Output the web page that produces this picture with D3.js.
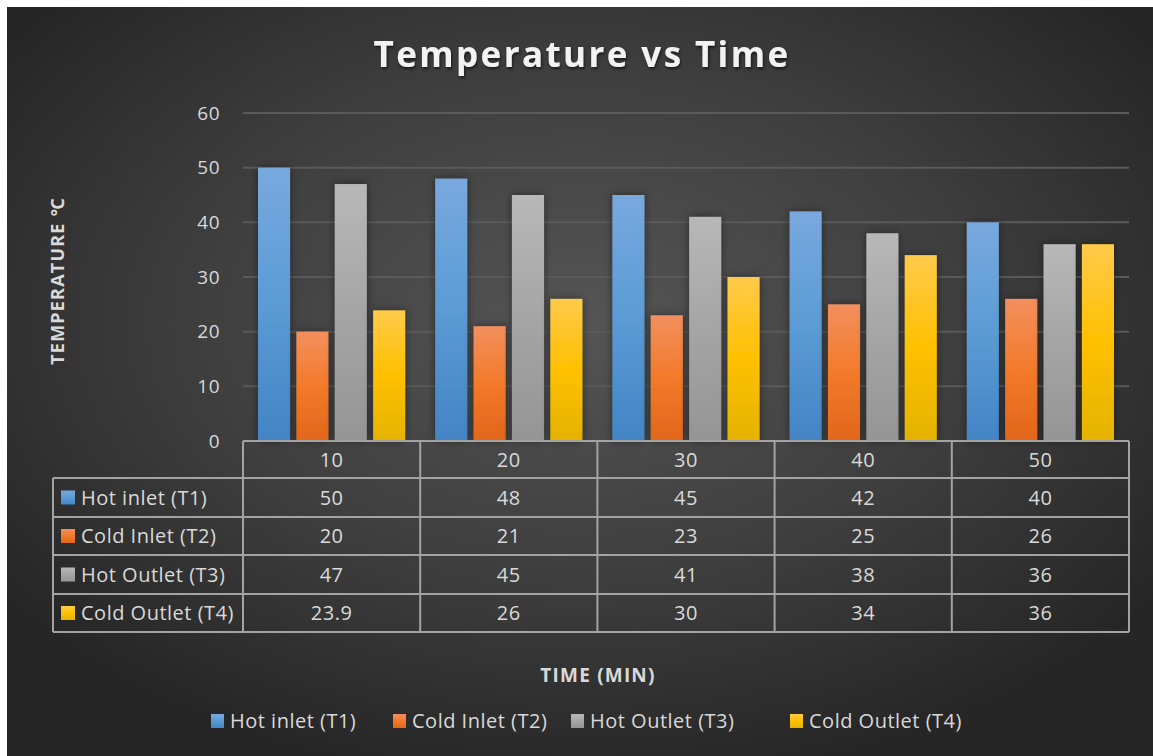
<!DOCTYPE html>
<html>
<head>
<meta charset="utf-8">
<script src="https://cdn.jsdelivr.net/npm/d3@7"></script>
<style>
  html, body { margin: 0; padding: 0; background: #ffffff; }
  svg { display: block; }
  text { font-family: "Open Sans", "Noto Sans", sans-serif; }
</style>
</head>
<body>
<svg id="chart" width="1153" height="756"></svg>
<script>
// Time points (minutes) along the horizontal axis
const categories = ["10", "20", "30", "40", "50"];

// Temperature series, °C
const seriesNames = ["Hot inlet (T1)", "Cold Inlet (T2)", "Hot Outlet (T3)", "Cold Outlet (T4)"];
const hotInlet   = [50, 48, 45, 42, 40];
const coldInlet  = [20, 21, 23, 25, 26];
const hotOutlet  = [47, 45, 41, 38, 36];
const coldOutlet = [23.9, 26, 30, 34, 36];
const tableLabels = [
  ["50", "48", "45", "42", "40"],
  ["20", "21", "23", "25", "26"],
  ["47", "45", "41", "38", "36"],
  ["23.9", "26", "30", "34", "36"]
];

const yTicks = [0, 10, 20, 30, 40, 50, 60];

const series = [hotInlet, coldInlet, hotOutlet, coldOutlet];
// top / middle / bottom colours of each series' bar gradient
const palettes = [
  ["#78a9de", "#5b9bd5", "#4384c6"],
  ["#f38f5e", "#f37a2a", "#e2661b"],
  ["#b8b8b8", "#a5a5a5", "#959595"],
  ["#ffca4a", "#ffc000", "#e4b300"]
];

const W = 1153, H = 756;
const svg = d3.select("#chart");
const defs = svg.append("defs");

// dark radial backdrop
const bg = defs.append("radialGradient").attr("id", "bg")
  .attr("cx", "0.5").attr("cy", "0.42").attr("r", "0.62");
bg.append("stop").attr("offset", "0").attr("stop-color", "#555555");
bg.append("stop").attr("offset", "0.55").attr("stop-color", "#3e3e3e");
bg.append("stop").attr("offset", "1").attr("stop-color", "#262626");

palettes.forEach((p, i) => {
  const g = defs.append("linearGradient").attr("id", "bar" + i)
    .attr("x1", 0).attr("y1", 0).attr("x2", 0).attr("y2", 1);
  g.append("stop").attr("offset", "0").attr("stop-color", p[0]);
  g.append("stop").attr("offset", "0.5").attr("stop-color", p[1]);
  g.append("stop").attr("offset", "1").attr("stop-color", p[2]);
});

const shadow = defs.append("filter").attr("id", "shadow")
  .attr("x", "-40%").attr("y", "-10%").attr("width", "180%").attr("height", "120%");
shadow.append("feDropShadow").attr("dx", 0).attr("dy", 0).attr("stdDeviation", 4)
  .attr("flood-color", "#000").attr("flood-opacity", 0.45);

const titleShadow = defs.append("filter").attr("id", "tshadow")
  .attr("x", "-10%").attr("y", "-30%").attr("width", "120%").attr("height", "160%");
titleShadow.append("feDropShadow").attr("dx", 1).attr("dy", 2).attr("stdDeviation", 1.5)
  .attr("flood-color", "#000").attr("flood-opacity", 0.6);

svg.append("rect").attr("x", 7).attr("y", 7).attr("width", W - 7).attr("height", H - 7)
  .attr("fill", "url(#bg)");

// scales
const plotLeft = 243, plotRight = 1129, plotTop = 113, plotBottom = 441;
const x = d3.scaleBand().domain(categories).range([plotLeft, plotRight]).padding(0);
const xs = d3.scaleBand().domain(d3.range(series.length))
  .range([15, x.bandwidth() - 15]).paddingInner(0.165);
const y = d3.scaleLinear().domain([0, 60]).range([plotBottom, plotTop]);

// gridlines
svg.append("g").selectAll("line").data(yTicks.filter(d => d > 0)).join("line")
  .attr("x1", plotLeft).attr("x2", plotRight)
  .attr("y1", d => y(d)).attr("y2", d => y(d))
  .attr("stroke", "#5a5a5a").attr("stroke-width", 2);

// y axis labels
const yAxis = svg.append("g").attr("transform", `translate(${plotLeft - 23},0)`)
  .call(d3.axisLeft(y).tickValues(yTicks).tickSize(0).tickPadding(0));
yAxis.select(".domain").remove();
yAxis.selectAll("text").attr("fill", "#d9d9d9").style("font-size", "19px")
  .style("letter-spacing", "0.5px")
  .style("font-family", "'Open Sans', sans-serif");

// bars
const groups = svg.append("g").selectAll("g").data(categories).join("g")
  .attr("transform", d => `translate(${x(d)},0)`);
groups.selectAll("rect")
  .data((c, ci) => series.map((s, si) => ({ si, v: s[ci] })))
  .join("rect")
  .attr("x", d => xs(d.si))
  .attr("width", xs.bandwidth())
  .attr("y", d => y(d.v))
  .attr("height", d => y(0) - y(d.v))
  .attr("fill", d => `url(#bar${d.si})`)
  .attr("filter", "url(#shadow)");

// data table
const tableLeft = 53;
const rowEdges = [441, 478, 517, 555, 594, 632];
const lineColor = "#a3a3a3";
const table = svg.append("g").attr("stroke", lineColor).attr("stroke-width", 2).attr("fill", "none");
// horizontal lines
table.append("line").attr("x1", plotLeft).attr("x2", plotRight).attr("y1", rowEdges[0]).attr("y2", rowEdges[0]);
rowEdges.slice(1).forEach(ry => {
  table.append("line").attr("x1", tableLeft).attr("x2", plotRight).attr("y1", ry).attr("y2", ry);
});
// vertical lines
table.append("line").attr("x1", tableLeft).attr("x2", tableLeft).attr("y1", rowEdges[1]).attr("y2", rowEdges[5]);
categories.forEach(c => {
  table.append("line").attr("x1", x(c)).attr("x2", x(c)).attr("y1", rowEdges[0]).attr("y2", rowEdges[5]);
});
table.append("line").attr("x1", plotRight).attr("x2", plotRight).attr("y1", rowEdges[0]).attr("y2", rowEdges[5]);

const cellFont = "20px";
const cellSpacing = "0.5px";
// header row: time values
svg.append("g").selectAll("text").data(categories).join("text")
  .attr("x", d => x(d) + x.bandwidth() / 2)
  .attr("y", (rowEdges[0] + rowEdges[1]) / 2)
  .attr("dy", "0.35em").attr("text-anchor", "middle")
  .attr("fill", "#d9d9d9").style("font-size", cellFont).style("letter-spacing", cellSpacing)
  .text(d => d);

// series rows
seriesNames.forEach((name, si) => {
  const cy = (rowEdges[si + 1] + rowEdges[si + 2]) / 2;
  svg.append("rect").attr("x", 61).attr("y", cy - 7).attr("width", 14).attr("height", 14)
    .attr("fill", `url(#bar${si})`);
  svg.append("text").attr("x", 81).attr("y", cy).attr("dy", "0.35em")
    .attr("fill", "#d9d9d9").style("font-size", cellFont).style("letter-spacing", cellSpacing)
    .text(name);
  svg.append("g").selectAll("text").data(categories).join("text")
    .attr("x", d => x(d) + x.bandwidth() / 2)
    .attr("y", cy).attr("dy", "0.35em").attr("text-anchor", "middle")
    .attr("fill", "#d9d9d9").style("font-size", cellFont).style("letter-spacing", cellSpacing)
    .text((d, ci) => tableLabels[si][ci]);
});

// title
svg.append("text").attr("x", 582).attr("y", 67).attr("text-anchor", "middle")
  .attr("fill", "#f2f2f2").style("font-size", "35px").style("font-weight", "bold")
  .style("letter-spacing", "2.4px").attr("filter", "url(#tshadow)")
  .text("Temperature vs Time");

// axis titles
svg.append("text").attr("transform", "translate(64,281) rotate(-90)")
  .attr("text-anchor", "middle").attr("fill", "#d9d9d9")
  .style("font-size", "18px").style("font-weight", "bold").style("letter-spacing", "1.2px")
  .text("TEMPERATURE ℃");
svg.append("text").attr("x", 598).attr("y", 682).attr("text-anchor", "middle")
  .attr("fill", "#d9d9d9").style("font-size", "19px").style("font-weight", "bold")
  .style("letter-spacing", "1.2px")
  .text("TIME (MIN)");

// legend
const legendX = [211, 393, 571, 790];
const legend = svg.append("g").selectAll("g").data(seriesNames).join("g")
  .attr("transform", (d, i) => `translate(${legendX[i]},721)`);
legend.append("rect").attr("x", 0).attr("y", -7).attr("width", 13).attr("height", 14)
  .attr("fill", (d, i) => `url(#bar${i})`);
legend.append("text").attr("x", 19).attr("dy", "0.35em")
  .attr("fill", "#d9d9d9").style("font-size", cellFont).style("letter-spacing", cellSpacing)
  .text(d => d);
</script>
</body>
</html>
